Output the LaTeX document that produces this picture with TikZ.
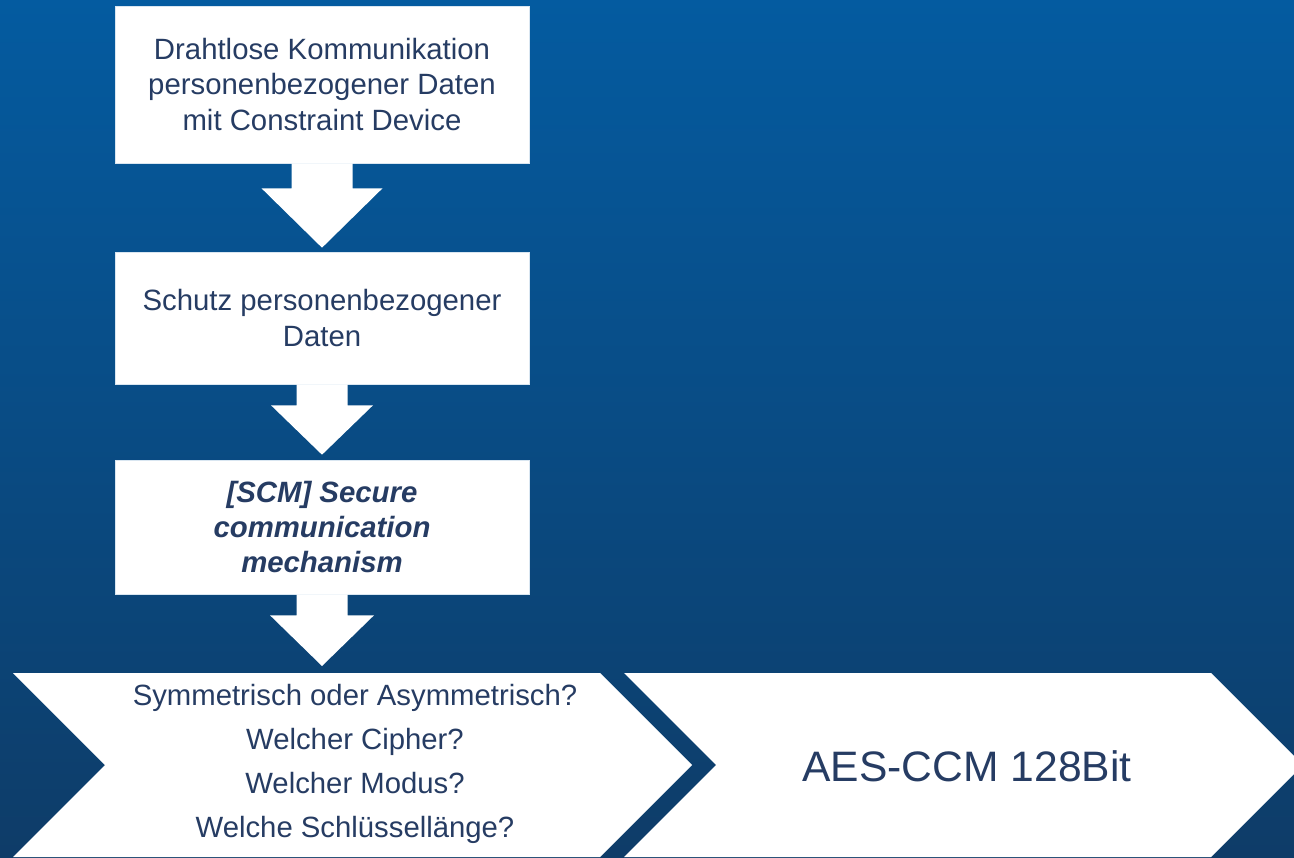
\documentclass[tikz,border=0pt]{standalone}
\usepackage{fontspec}
\setmainfont{Liberation Sans}
\usetikzlibrary{calc}
\definecolor{bgtop}{HTML}{045BA0}
\definecolor{bgmid}{HTML}{074C84}
\definecolor{bgbot}{HTML}{0E3C68}
\definecolor{ink}{HTML}{263C63}
\tikzset{
  stepbox/.style={fill=white, draw=white!85!bgtop, line width=0.6pt, minimum width=414pt,
    inner sep=0pt, align=center, text=ink, font=\fontsize{29.35}{35.5}\selectfont},
  label/.style={align=center, text=ink, inner sep=0pt},
  blockarrow/.style={fill=white},
  chevronfill/.style={fill=white}
}
\begin{document}
\begin{tikzpicture}[x=1pt,y=-1pt]
\useasboundingbox (0,0) rectangle (1294,858);
\clip (0,0) rectangle (1294,858);
% background gradient
\shade[top color=bgtop, middle color=bgmid, bottom color=bgbot] (0,0) rectangle (1294,858);

% process boxes
\node[stepbox, minimum height=157pt] (b1) at (322,84.5)
  {Drahtlose Kommunikation\\personenbezogener Daten\\mit Constraint Device};
\node[stepbox, minimum height=132pt] (b2) at (322,318)
  {Schutz personenbezogener\\Daten};
\node[stepbox, minimum height=134pt, font=\fontsize{29.35}{35}\selectfont\bfseries\itshape] (b3) at (322,527)
  {[SCM] Secure\\communication\\mechanism};

% chevrons
\fill[chevronfill] (13,673) -- (600,673) -- (692,765) -- (600,857) -- (13,857) -- (105,765) -- cycle;
\fill[chevronfill] (624,673) -- (1211,673) -- (1303,765) -- (1211,857) -- (624,857) -- (716,765) -- cycle;
\coordinate (c1top) at (322,673);

\node[label, font=\fontsize{29.3}{44}\selectfont] (q) at (355,764)
  {Symmetrisch oder Asymmetrisch?\\Welcher Cipher?\\Welcher Modus?\\Welche Schlüssellänge?};
\node[label, font=\fontsize{42.6}{50}\selectfont] (aes) at (967,766) {AES-CCM 128Bit};

% block arrows between the steps
\fill[blockarrow] ($(b1.south)+(-30.5,0)$) -- ($(b1.south)+(30.5,0)$) -- ($(b1.south)+(30.5,25)$)
  -- ($(b1.south)+(60.5,25)$) -- ($(b2.north)+(0,-4)$) -- ($(b1.south)+(-60.5,25)$)
  -- ($(b1.south)+(-30.5,25)$) -- cycle;
\fill[blockarrow] ($(b2.south)+(-25.5,0)$) -- ($(b2.south)+(25.5,0)$) -- ($(b2.south)+(25.5,21)$)
  -- ($(b2.south)+(51,21)$) -- ($(b3.north)+(0,-5)$) -- ($(b2.south)+(-51,21)$)
  -- ($(b2.south)+(-25.5,21)$) -- cycle;
\fill[blockarrow] ($(b3.south)+(-25.5,0)$) -- ($(b3.south)+(25.5,0)$) -- ($(b3.south)+(25.5,21)$)
  -- ($(b3.south)+(52,21)$) -- ($(c1top)+(0,-7)$) -- ($(b3.south)+(-52,21)$)
  -- ($(b3.south)+(-25.5,21)$) -- cycle;
\end{tikzpicture}
\end{document}
